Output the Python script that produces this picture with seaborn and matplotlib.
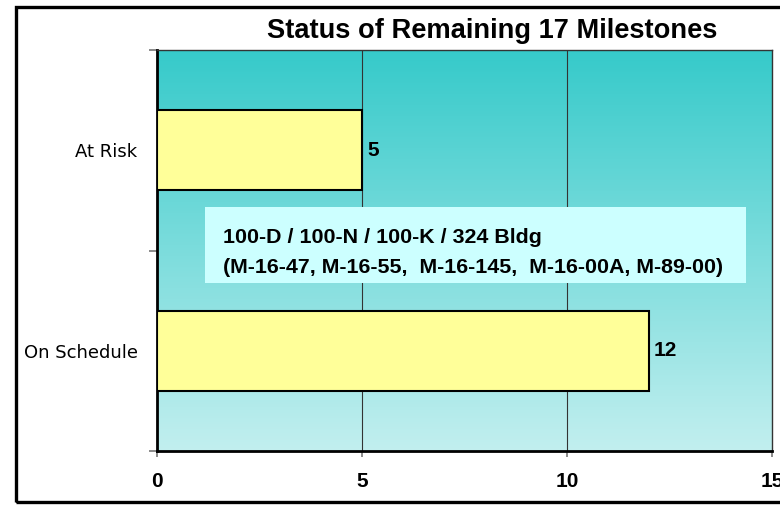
import numpy as np
import pandas as pd
import seaborn as sns
import matplotlib.pyplot as plt
from matplotlib.patches import Rectangle
from matplotlib.colors import LinearSegmentedColormap

# data
status = ['At Risk', 'On Schedule']
counts = [5, 12]
x_ticks = [0, 5, 10, 15]
title = 'Status of Remaining 17 Milestones'
note_lines = ['100-D / 100-N / 100-K / 324 Bldg',
              '(M-16-47, M-16-55,  M-16-145,  M-16-00A, M-89-00)']

sns.set_style('white')
plt.rcParams['font.family'] = ['Liberation Sans', 'DejaVu Sans']
plt.rcParams['text.color'] = 'black'

df = pd.DataFrame({'status': status, 'count': counts})

fig = plt.figure(figsize=(7.8, 5.05), dpi=100)
ax = fig.add_axes([0.2013, 0.1069, 0.7885, 0.794])

# gradient background, teal at top fading to pale cyan
cmap = LinearSegmentedColormap.from_list('bg', ['#36CACA', '#C2EFEF'])
grad = np.linspace(0, 1, 256).reshape(-1, 1)
ax.imshow(grad, cmap=cmap, aspect='auto', extent=[0, 15, 1.5, -0.5],
          zorder=0)

sns.barplot(data=df, x='count', y='status', orient='h', color='#FFFF99',
            saturation=1, edgecolor='black', linewidth=1.5, width=0.4,
            ax=ax, zorder=3)

ax.set_xlim(0, 15)
ax.set_ylim(1.5, -0.5)
ax.set_xticks(x_ticks)
ax.set_xticklabels([str(t) for t in x_ticks], fontsize=15, fontweight='bold')
ax.set_yticks(range(len(status)))
ax.set_yticklabels(status, fontsize=13, family='DejaVu Sans')
ax.set_yticks([-0.5, 0.5, 1.5], minor=True)
ax.tick_params(axis='y', which='major', length=0, pad=14, labelcolor='black')
ax.tick_params(axis='y', which='minor', length=6, width=1.2, color='#777777',
               direction='out', left=True)
ax.tick_params(axis='x', length=4, width=1.2, color='#777777', pad=11,
               direction='out', bottom=True, labelcolor='black')
ax.set_xlabel('')
ax.set_ylabel('')

for v in [5, 10]:
    ax.axvline(v, color='#333333', lw=0.8, zorder=1)

for sp in ['left', 'bottom']:
    ax.spines[sp].set_color('black')
    ax.spines[sp].set_linewidth(2)
for sp in ['top', 'right']:
    ax.spines[sp].set_color('#333333')
    ax.spines[sp].set_linewidth(1)

for i, v in enumerate(counts):
    ax.text(v + 0.12, i, str(v), va='center', ha='left', fontsize=15,
            fontweight='bold', zorder=4)

# note box
ax.add_patch(Rectangle((1.17, 0.283), 13.2, 0.38, facecolor='#CCFFFF',
                       edgecolor='none', zorder=2))
ax.text(1.6, 0.435, note_lines[0], fontsize=15.4, fontweight='bold',
        va='center', ha='left', zorder=4)
ax.text(1.6, 0.585, note_lines[1], fontsize=15.4, fontweight='bold',
        va='center', ha='left', zorder=4)

fig.text(0.631, 0.938, title, fontsize=19.6, fontweight='bold',
         ha='center', va='center')

fig.patches.append(Rectangle((0.0205, 0.005), 1.1, 0.982, fill=False,
                             lw=2.4, edgecolor='black',
                             transform=fig.transFigure, clip_on=False))

fig.savefig('out.png', dpi=100)
